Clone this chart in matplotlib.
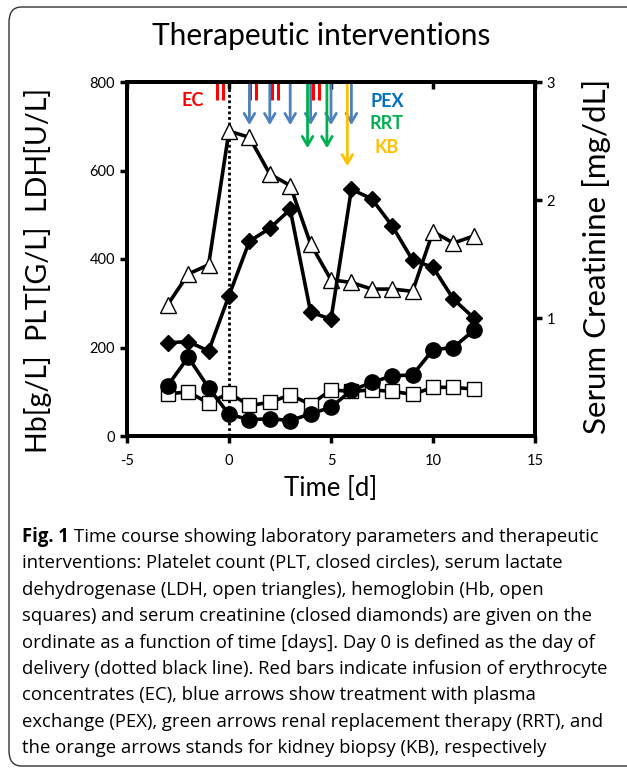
import matplotlib
matplotlib.use("Agg")
import matplotlib.pyplot as plt
from matplotlib.path import Path
from matplotlib.patches import FancyBboxPatch
import matplotlib.transforms as mtransforms

# ---------------- data ----------------
days = [-3, -2, -1, 0, 1, 2, 3, 4, 5, 6, 7, 8, 9, 10, 11, 12]
plt_vals = [114, 178, 109, 49, 37, 39, 35, 50, 65, 103, 121, 136, 138, 195, 200, 239]
hb_vals = [95, 100, 74, 97, 69, 76, 93, 71, 104, 101, 104, 101, 94, 110, 110, 106]
ldh_vals = [297, 366, 387, 689, 675, 592, 566, 434, 353, 347, 332, 332, 327, 462, 436, 452]
crea_vals = [0.79, 0.80, 0.72, 1.19, 1.65, 1.76, 1.92, 1.05, 0.99, 2.09, 2.01, 1.78, 1.49, 1.43, 1.16, 1.00]

ec_days = [-0.45, 1.2, 2.25, 4.25]
pex_days = [1, 2, 3, 4, 5, 6]
rrt_days = [3.85, 4.8]
kb_days = [5.8]

delivery_day = 0
x_ticks = [-5, 0, 5, 10, 15]
y_ticks = [0, 200, 400, 600, 800]
y2_ticks = [1, 2, 3]

caption_lines = [
    "Time course showing laboratory parameters and therapeutic",
    "interventions: Platelet count (PLT, closed circles), serum lactate",
    "dehydrogenase (LDH, open triangles), hemoglobin (Hb, open",
    "squares) and serum creatinine (closed diamonds) are given on the",
    "ordinate as a function of time [days]. Day 0 is defined as the day of",
    "delivery (dotted black line). Red bars indicate infusion of erythrocyte",
    "concentrates (EC), blue arrows show treatment with plasma",
    "exchange (PEX), green arrows renal replacement therapy (RRT), and",
    "the orange arrows stands for kidney biopsy (KB), respectively",
]

# ---------------- styling ----------------
FONT = "Lato"
plt.rcParams["font.family"] = [FONT, "DejaVu Sans"]
plt.rcParams["axes.unicode_minus"] = False
RED = "#FF0000"
BLUE = "#4F81BD"
GREEN = "#00B050"
ORANGE = "#FFC000"
PEX_TXT = "#0070C0"

fig = plt.figure(figsize=(6.27, 7.69), dpi=100)

# frame around figure
frame = FancyBboxPatch((9 / 627, 3 / 769), 1.2, 1 - 10 / 769,
                       boxstyle="round,pad=0,rounding_size=0.02",
                       transform=fig.transFigure, fill=False,
                       edgecolor="#333333", linewidth=1.0, clip_on=False)
fig.patches.append(frame)

ax = fig.add_axes([127 / 627, 1 - 436 / 769, 408 / 627, 354 / 769])
ax2 = ax.twinx()

lw = 2.6
ax.axvline(delivery_day, ymin=0, ymax=1, color="black", linestyle=(0, (1, 1)), lw=2.0, zorder=1)

ax.plot(days, ldh_vals, color="black", lw=lw, marker="^", ms=12, mfc="white", mec="black", mew=1.0, zorder=3)
ax.plot(days, hb_vals, color="black", lw=lw, marker="s", ms=10, mfc="white", mec="black", mew=1.0, zorder=3)
ax.plot(days, plt_vals, color="black", lw=lw, marker="o", ms=11, mfc="black", mec="black", zorder=4)
ax2.plot(days, crea_vals, color="black", lw=lw, marker="D", ms=8, mfc="black", mec="black", zorder=4)

ax.set_xlim(-5, 15)
ax.set_ylim(0, 800)
ax2.set_ylim(0, 3)
ax.set_xticks(x_ticks)
ax.set_yticks(y_ticks)
ax2.set_yticks(y2_ticks)

for a in (ax, ax2):
    for s in a.spines.values():
        s.set_linewidth(2.8)
ax.tick_params(axis="both", which="major", labelsize=10.5, width=2.5, length=5, direction="out")
ax.tick_params(axis="x", pad=8)
ax2.tick_params(axis="y", labelsize=10.5, width=2.5, length=5, direction="out")

top = ax.secondary_xaxis("top")
top.set_xticks(x_ticks)
top.tick_params(direction="in", length=5, width=2.5, labeltop=False)
top.spines["top"].set_linewidth(2.8)

ax.set_ylabel("Hb[g/L]  PLT[G/L]  LDH[U/L]", fontsize=20.5)
ax.yaxis.set_label_coords(-0.184, 0.469)
ax2.set_ylabel("Serum Creatinine [mg/dL]", fontsize=22.5)
ax2.yaxis.set_label_coords(1.115, 0.508)
ax.set_xlabel("Time [d]", fontsize=18.5, labelpad=6)

# interventions
trans = mtransforms.blended_transform_factory(ax.transData, ax.transAxes)
bar_marker = Path([(-0.28, -1), (-0.28, 1), (0.28, -1), (0.28, 1)],
                  [Path.MOVETO, Path.LINETO, Path.MOVETO, Path.LINETO])
ax.plot(ec_days, [0.976] * len(ec_days), linestyle="none", marker=bar_marker,
        ms=15, mec=RED, mew=2.2, transform=trans, clip_on=False, zorder=5)

def arrows(xs, tip, color):
    for x in xs:
        ax.annotate("", xy=(x, tip), xytext=(x, 1.0), xycoords=trans, textcoords=trans,
                    arrowprops=dict(arrowstyle="->,head_length=0.65,head_width=0.38",
                                    color=color, lw=2.0, shrinkA=0, shrinkB=0),
                    zorder=5)

arrows(pex_days, 0.878, BLUE)
arrows(rrt_days, 0.813, GREEN)
arrows(kb_days, 0.762, ORANGE)

ax.text(0.162, 0.948, "EC", transform=ax.transAxes, color=RED, fontsize=13,
        fontweight="bold", ha="center", va="center")
ax.text(0.637, 0.944, "PEX", transform=ax.transAxes, color=PEX_TXT, fontsize=13,
        fontweight="bold", ha="center", va="center")
ax.text(0.637, 0.882, "RRT", transform=ax.transAxes, color=GREEN, fontsize=13,
        fontweight="bold", ha="center", va="center")
ax.text(0.637, 0.816, "KB", transform=ax.transAxes, color=ORANGE, fontsize=13,
        fontweight="bold", ha="center", va="center")

fig.text(321 / 627, 1 - 36 / 769, "Therapeutic interventions", fontsize=21.5,
         ha="center", va="center")

# caption
x0 = 22 / 627
y0 = 537
dy = 26.4
cap_font = ["Open Sans", "DejaVu Sans"]
cs = 13.35
t = fig.text(x0, 1 - y0 / 769, "Fig. 1", fontsize=cs, fontweight="bold",
             family=cap_font, ha="left", va="center")
fig.canvas.draw()
bb = t.get_window_extent()
fig.text(bb.x1 / fig.bbox.width + 5 / 627, 1 - y0 / 769, caption_lines[0], fontsize=cs,
         family=cap_font, ha="left", va="center")
for i, line in enumerate(caption_lines[1:], start=1):
    fig.text(x0, 1 - (y0 + i * dy) / 769, line, fontsize=cs, family=cap_font,
             ha="left", va="center")

fig.savefig("out.png", dpi=100)
